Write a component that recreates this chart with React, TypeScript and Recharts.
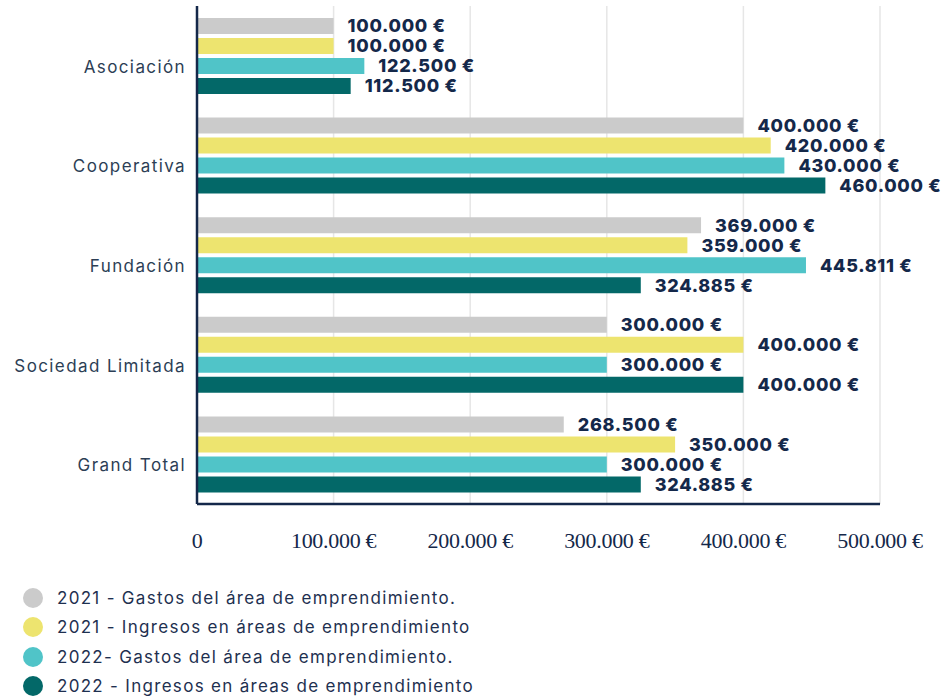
import { BarChart, Bar, XAxis, YAxis, CartesianGrid, LabelList } from "recharts";

const categories = ["Asociación", "Cooperativa", "Fundación", "Sociedad Limitada", "Grand Total"];
const gastos2021 = [100000, 400000, 369000, 300000, 268500];
const ingresos2021 = [100000, 420000, 359000, 400000, 350000];
const gastos2022 = [122500, 430000, 445811, 300000, 300000];
const ingresos2022 = [112500, 460000, 324885, 400000, 324885];
const xTicks = [0, 100000, 200000, 300000, 400000, 500000];

const series = [
  { key: "g21", name: "2021 - Gastos del área de emprendimiento.", color: "#cbcbcb" },
  { key: "i21", name: "2021 - Ingresos en áreas de emprendimiento", color: "#ede46f" },
  { key: "g22", name: "2022- Gastos del área de emprendimiento.", color: "#50c4c8" },
  { key: "i22", name: "2022 - Ingresos en áreas de emprendimiento", color: "#036868" },
];

const data = categories.map((name, i) => ({
  name,
  g21: gastos2021[i],
  i21: ingresos2021[i],
  g22: gastos2022[i],
  i22: ingresos2022[i],
}));

const NAVY = "#14284a";
const SANS = "Inter, 'Open Sans', sans-serif";

// 100000 -> "100.000"
function fmt(v: number) {
  return String(Math.round(v)).replace(/\B(?=(\d{3})+(?!\d))/g, ".");
}

function CategoryTick(props: any) {
  const { x, y, payload } = props;
  return (
    <text x={x} y={y + 11} textAnchor="end" dominantBaseline="central" fill="#2c3e55"
      style={{ fontFamily: SANS, fontSize: 17, letterSpacing: 1.4 }}>
      {payload.value}
    </text>
  );
}

function ValueTick(props: any) {
  const { x, y, payload } = props;
  return (
    <text x={x} y={y} textAnchor="middle" dominantBaseline="central" fill={NAVY}
      style={{ fontFamily: "'Liberation Serif', 'DejaVu Serif', serif", fontSize: 22, letterSpacing: -0.3 }}>
      {payload.value === 0 ? "0" : `${fmt(payload.value)} €`}
    </text>
  );
}

function ChartLegend() {
  return (
    <div style={{ position: "absolute", left: 23, top: 583, fontFamily: SANS, fontSize: 17, color: "#1e3050", letterSpacing: 1.3 }}>
      {series.map((s) => (
        <div key={s.key} style={{ display: "flex", alignItems: "center", height: 29.5 }}>
          <span style={{ width: 20, height: 20, borderRadius: 10, background: s.color, marginRight: 14 }} />
          <span>{s.name}</span>
        </div>
      ))}
    </div>
  );
}

export default function App() {
  return (
    <div style={{ position: "absolute", left: 0, top: 0, width: 952, height: 700, background: "#fff" }}>
      <BarChart
        layout="vertical"
        width={952}
        height={570}
        data={data}
        margin={{ top: 6, right: 72, bottom: 6, left: 0 }}
        barSize={16}
        barGap={4}
      >
        <CartesianGrid horizontal={false} stroke="#e6e6e6" strokeWidth={1.5} />
        <XAxis
          type="number"
          domain={[0, 500000]}
          ticks={xTicks}
          tick={<ValueTick />}
          tickLine={false}
          tickSize={0}
          tickMargin={36}
          axisLine={{ stroke: NAVY, strokeWidth: 2.5 }}
          height={60}
        />
        <YAxis
          type="category"
          dataKey="name"
          width={197}
          tick={<CategoryTick />}
          tickLine={false}
          tickSize={0}
          tickMargin={11}
          axisLine={{ stroke: NAVY, strokeWidth: 2.5 }}
        />
        {series.map((s) => (
          <Bar key={s.key} dataKey={s.key} name={s.name} fill={s.color} isAnimationActive={false}>
            <LabelList
              dataKey={s.key}
              position="right"
              offset={14}
              formatter={(v: any) => `${fmt(Number(v))} €`}
              style={{ fontFamily: SANS, fontSize: 18, fontWeight: 800, fill: NAVY, letterSpacing: 0.7 }}
            />
          </Bar>
        ))}
      </BarChart>
      <ChartLegend />
    </div>
  );
}
